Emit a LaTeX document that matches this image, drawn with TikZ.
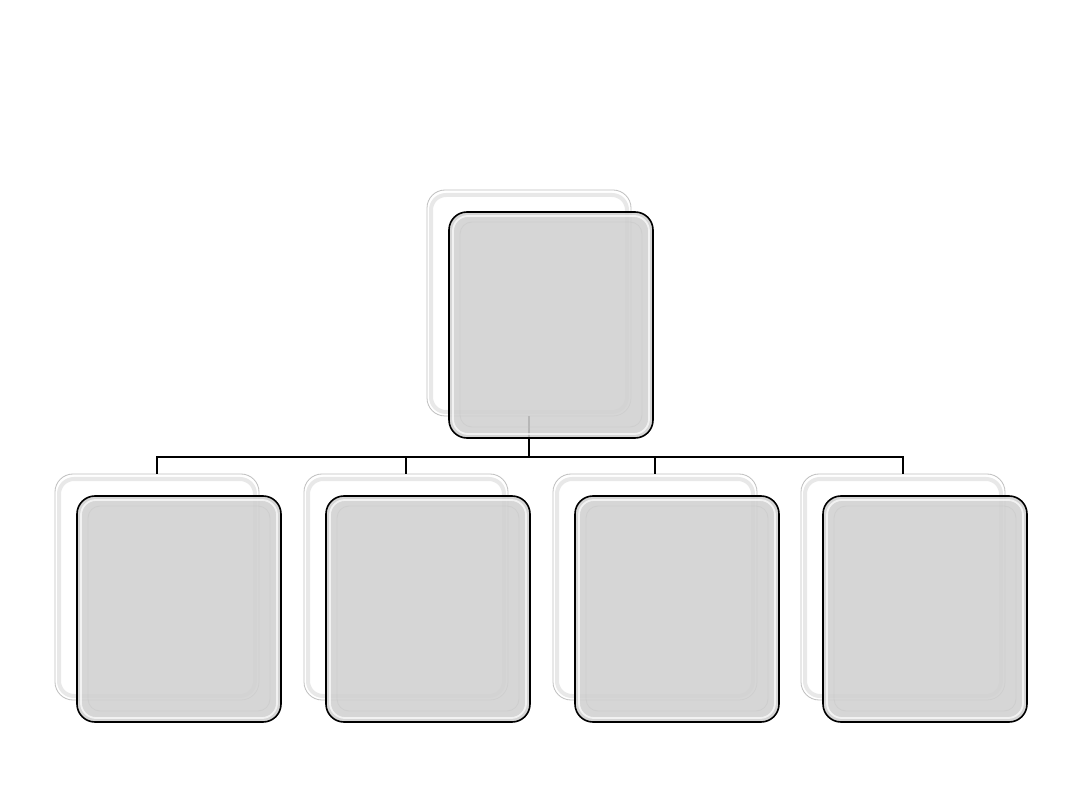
\documentclass[tikz,border=0pt]{standalone}
\usetikzlibrary{calc}
\begin{document}
\begin{tikzpicture}[x=1pt,y=-1pt,
  backbox/.style={draw=black!25, line width=0.8pt, fill=white, rounded corners=18pt,
    minimum width=204pt, minimum height=226pt, inner sep=0pt, outer sep=0pt},
  frontbox/.style={draw=black, line width=1.6pt, fill=black!18, fill opacity=0.88,
    rounded corners=18pt, minimum width=204pt, minimum height=226pt, inner sep=0pt, outer sep=0pt},
  conn/.style={draw=black, line width=2pt},
  backbevel/.style={draw=black!9, line width=4pt, rounded corners=15pt},
  frontlight/.style={draw=white, line width=1.8pt, opacity=0.7, rounded corners=15pt},
  frontbevel/.style={draw=black!24, line width=0.8pt, opacity=0.4, rounded corners=12pt}]
\useasboundingbox[fill=white] (0,0) rectangle (1080,810);
\newcommand\backpair[3]{%
  \node[backbox] (#1b) at (#2+102,#3+113) {};
  \draw[backbevel] ($(#1b.north west)+(4,5)$) rectangle ($(#1b.south east)+(-4,-4)$);
}
\newcommand\frontpair[3]{%
  \node[frontbox] (#1f) at (#2+124,#3+135) {};
  \draw[frontlight] ($(#1f.north west)+(4,4)$) rectangle ($(#1f.south east)+(-4,-4)$);
  \draw[frontbevel] ($(#1f.north west)+(11,10)$) rectangle ($(#1f.south east)+(-11,-11)$);
}
% back boxes
\backpair{t}{427}{190}
\backpair{a}{55}{474}
\backpair{b}{304}{474}
\backpair{c}{553}{474}
\backpair{d}{801}{474}
% connectors
\coordinate (j) at (529,457);
\draw[conn] (tb.south) -- (j);
\draw[conn] (ab.north) |- (j) -| (db.north);
\draw[conn] (bb.north) |- (j);
\draw[conn] (cb.north) |- (j);
% front boxes
\frontpair{t}{427}{190}
\frontpair{a}{55}{474}
\frontpair{b}{304}{474}
\frontpair{c}{553}{474}
\frontpair{d}{801}{474}
\end{tikzpicture}
\end{document}
